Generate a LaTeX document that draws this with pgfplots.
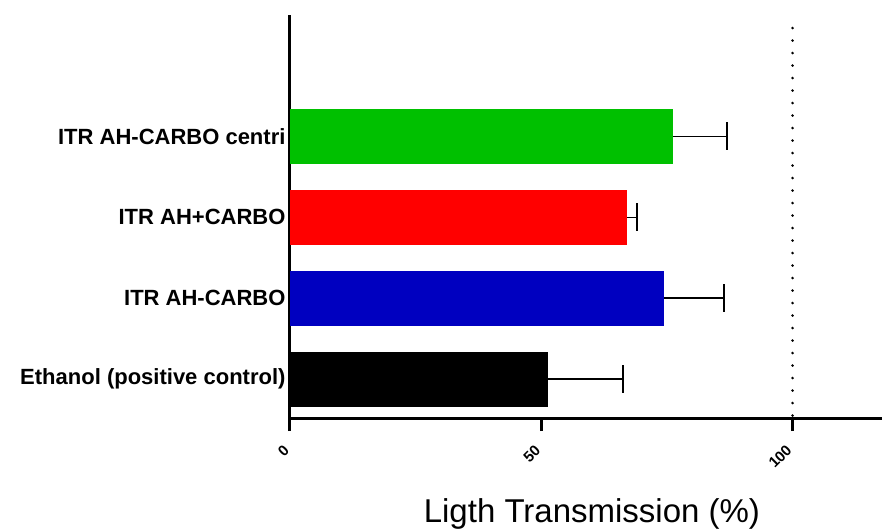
\documentclass[border=0pt]{standalone}
\usepackage{pgfplots}
\pgfplotsset{compat=1.18}
\usepackage{fontspec}
\setmainfont{Liberation Sans}
\definecolor{bgreen}{RGB}{0,192,0}
\definecolor{bblue}{RGB}{0,0,192}
\definecolor{bred}{RGB}{255,0,0}
\begin{document}
\begin{tikzpicture}
\useasboundingbox (-290pt,-112pt) rectangle (592pt,418pt);
\begin{axis}[
  at={(0pt,0pt)}, anchor=south west,
  scale only axis, width=592pt, height=403pt,
  xmin=0, xmax=117.8, ymin=-0.48, ymax=4.5,
  axis x line*=bottom, axis y line*=left,
  axis line style={line width=3pt, black},
  xtick={0,50,100},
  tick align=outside,
  x tick style={line width=3pt, black},
  major tick length=13pt,
  ytick={0,1,2,3},
  yticklabels={Ethanol (positive control),ITR AH-CARBO,ITR AH+CARBO,ITR AH-CARBO centri},
  y tick style={draw=none},
  /pgf/number format/assume math mode=true,
  yticklabel style={font=\fontsize{22}{24}\selectfont\bfseries, xshift=12pt},
  xticklabel style={font=\fontsize{15}{17}\selectfont\bfseries, rotate=45, anchor=north east, inner sep=1pt, xshift=-13.1pt, yshift=-2.7pt},
  xlabel={Ligth Transmission (\%)},
  xlabel style={font=\fontsize{33}{36}\selectfont, at={(rel axis cs:0.51,0)}, anchor=base, yshift=-104pt},
  xbar, bar width=55pt, bar shift=0pt,
  error bars/x dir=plus, error bars/x explicit,
  error bars/error bar style={line width=1.6pt, black},
  error bars/error mark options={rotate=90, mark size=14pt, line width=1.6pt, black},
  clip=false,
]
\addplot[fill=black, draw=none] coordinates {(51.4,0) +- (14.9,0)};
\addplot[fill=bblue, draw=none] coordinates {(74.5,1) +- (11.8,0)};
\addplot[fill=bred, draw=none] coordinates {(67.1,2) +- (1.9,0)};
\addplot[fill=bgreen, draw=none] coordinates {(76.3,3) +- (10.7,0)};
\addplot[sharp plot, line width=2.8pt, line cap=round, dash pattern=on 0pt off 12.5pt, black, no markers, fill=none] coordinates {(100,-0.45) (100,4.45)};
\end{axis}
\end{tikzpicture}
\end{document}
